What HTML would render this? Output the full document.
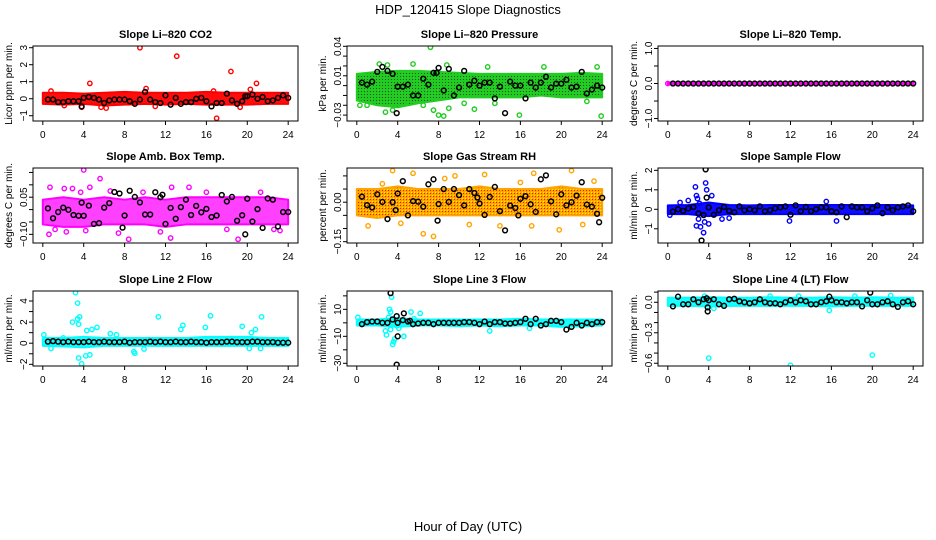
<!DOCTYPE html>
<html><head><meta charset="utf-8"><style>
html,body{margin:0;padding:0;background:#fff}
svg{display:block;font-family:"Liberation Sans",sans-serif}
</style></head><body>
<svg id="chart" width="936" height="540" viewBox="0 0 936 540" xmlns="http://www.w3.org/2000/svg">
<defs>
<pattern id="patGreen" width="3" height="3" patternUnits="userSpaceOnUse"><rect width="3" height="3" fill="#22cc22"/><rect x="1" y="1" width="1" height="1" fill="#115511"/></pattern>
<pattern id="patOrange" width="3" height="3" patternUnits="userSpaceOnUse"><rect width="3" height="3" fill="#ffa500"/><rect x="1" y="1" width="1" height="1" fill="#dd2200"/><rect x="0" y="0" width="1" height="1" fill="#ffee00"/></pattern>
</defs>
<rect x="0" y="0" width="936" height="540" fill="#fff"/>
<text x="468" y="14" font-size="13" text-anchor="middle">HDP_120415  Slope Diagnostics</text>
<text x="468" y="531" font-size="13" text-anchor="middle">Hour of Day (UTC)</text>
</svg>
<script>
const HOURS=[0.5,1,1.5,2,2.5,3,3.5,4,4.5,5,5.5,6,6.5,7,7.5,8,8.5,9,9.5,10,10.5,11,11.5,12,12.5,13,13.5,14,14.5,15,15.5,16,16.5,17,17.5,18,18.5,19,19.5,20,20.5,21,21.5,22,22.5,23,23.5,24];
const BAND_X=[0,2,4,6,8,10,12,14,16,18,20,22,24];
const XTICKS=[0,4,8,12,16,20,24];

// Panel 1 CO2
const co2Lo=[-0.3,-0.35,-0.3,-0.4,-0.35,-0.3,-0.35,-0.3,-0.35,-0.35,-0.35,-0.3,-0.3];
const co2Hi=[0.35,0.35,0.3,0.35,0.4,0.35,0.35,0.35,0.4,0.35,0.35,0.35,0.35];
const co2OutX=[9.5,13.1,18.4,4.6,20.9,17.0,10.1,20.3,0.8,3.8,5.7,6.2,19.3,11.0,2.1,16.7];
const co2OutY=[3.0,2.5,1.6,0.9,0.9,-1.15,0.6,0.55,0.45,-0.5,-0.5,-0.55,-0.5,-0.45,-0.4,0.45];
const co2Mean=[-0.05,-0.05,-0.2,-0.2,-0.15,-0.15,-0.15,0.05,0.1,0.05,-0.05,-0.25,-0.1,-0.05,-0.05,-0.05,-0.15,-0.3,-0.05,0.4,-0.05,-0.2,-0.25,0.2,-0.35,0.05,-0.3,-0.2,-0.2,0,0.05,-0.15,-0.45,-0.25,-0.25,0.3,-0.1,-0.3,-0.15,0.15,0.25,0,0.1,-0.15,-0.1,0.05,0.2,0.05];
const co2ExX=[3.8,19.8],co2ExY=[-0.45,0.15];

// Panel 2 Pressure
const prLo=[-0.015,-0.02,-0.022,-0.018,-0.015,-0.012,-0.012,-0.012,-0.012,-0.01,-0.012,-0.012,-0.012];
const prHi=[0.012,0.014,0.015,0.015,0.014,0.013,0.012,0.012,0.012,0.012,0.012,0.013,0.012];
const prOutX=[7.2,2.2,3,5.5,8.8,18.3,23.5,0.3,2.8,7.5,8,8.5,9,11.5,15.9,23.9,5.1,13.5,22.5,10.5,3.5,1.0,6.5,12.8];
const prOutY=[0.039,0.022,0.021,0.022,0.021,0.019,0.019,-0.02,-0.027,-0.025,-0.03,-0.031,-0.023,-0.024,-0.03,-0.031,-0.018,-0.018,-0.016,-0.018,-0.025,-0.02,-0.02,0.019];
const prMean=[0.003,0.001,0.004,0.014,0.019,0.015,0.012,-0.001,-0.001,0.001,-0.01,-0.01,0.007,0.001,0.013,0.018,-0.005,0.017,-0.01,-0.002,0.015,0.001,0.005,0.0,0.003,0.003,-0.013,-0.001,-0.028,0.004,0.0,0.0,-0.013,0.003,-0.002,0.003,0.009,-0.002,0.002,0.002,0.006,-0.002,-0.001,0.014,-0.008,-0.004,0.0,-0.002];
const prExX=[3.9,7.8],prExY=[-0.028,0.013];

// Panel 3 Li-820 Temp
const tLo=[-0.02,-0.02,-0.02,-0.02,-0.02,-0.02,-0.02,-0.02,-0.02,-0.02,-0.02,-0.02,-0.02];
const tHi=[0.02,0.02,0.02,0.02,0.02,0.02,0.02,0.02,0.02,0.02,0.02,0.02,0.02];
const tOutX=[0.0,24.0],tOutY=[0,0];
const tMean=[0,0,0,0,0,0,0,0,0,0,0,0,0,0,0,0,0,0,0,0,0,0,0,0,0,0,0,0,0,0,0,0,0,0,0,0,0,0,0,0,0,0,0,0,0,0,0,0];
const tExX=[],tExY=[];

// Panel 4 Amb Box Temp
const abLo=[-0.06,-0.07,-0.07,-0.06,-0.06,-0.06,-0.07,-0.06,-0.06,-0.06,-0.06,-0.06,-0.06];
const abHi=[0.04,0.05,0.04,0.05,0.04,0.05,0.04,0.05,0.05,0.05,0.05,0.05,0.04];
const abOutX=[4,5.6,0.7,2.1,4.6,12.6,14.3,0.6,1.2,2.3,4.2,7.4,8.4,11.5,12.5,19.1,22.6,23.2,16.0,3.7,9.8,18.0,21.3,2.9,6.6];
const abOutY=[0.16,0.125,0.09,0.085,0.09,0.09,0.09,-0.1,-0.08,-0.09,-0.085,-0.095,-0.12,-0.09,-0.115,-0.12,-0.08,-0.085,0.07,0.07,0.07,-0.08,0.07,0.085,0.075];
const abMean=[0.005,-0.035,-0.01,0.008,-0.001,-0.022,-0.025,-0.025,0.016,-0.058,-0.055,0.008,0.026,0.071,0.065,-0.024,0.076,0.051,0.029,-0.02,-0.02,0.07,0.05,-0.058,0.007,-0.037,0.01,0.04,-0.022,0.015,-0.011,0.003,-0.03,-0.024,0.059,0.033,0.051,-0.045,-0.023,0.044,-0.048,0.002,-0.074,0.045,0.04,-0.068,-0.01,-0.01];
const abExX=[3.8,7.8,19.8,11.7],abExY=[0.028,-0.073,-0.10,0.06];

// Panel 5 Gas Stream RH
const rhLo=[-0.05,-0.06,-0.05,-0.05,-0.05,-0.05,-0.05,-0.05,-0.05,-0.05,-0.05,-0.05,-0.05];
const rhHi=[0.05,0.05,0.06,0.05,0.05,0.05,0.06,0.05,0.05,0.05,0.06,0.05,0.05];
const rhOutX=[3.5,5.5,12.5,17.3,21.0,1.1,6.5,7.5,4.3,17.1,19.8,22.1,0.2,9.6,8.6,2.5,14.0,23.2,11.0,16.0];
const rhOutY=[0.12,0.11,0.105,0.11,0.12,-0.09,-0.12,-0.13,-0.08,-0.09,-0.105,-0.085,0.02,0.1,0.09,0.07,-0.09,0.08,-0.085,0.075];
const rhMean=[0.021,-0.011,-0.02,0.03,0.001,-0.064,0.0,0.033,0.08,-0.05,0.004,0.002,-0.017,0.068,0.087,-0.007,0.05,0.001,0.05,0.027,-0.012,0.05,0.035,-0.005,-0.048,0.02,0.058,-0.034,-0.107,-0.013,-0.022,0.013,0.023,-0.008,-0.037,0.087,0.102,0.003,-0.046,0.03,-0.012,0.0,0.025,0.076,-0.009,-0.017,-0.044,0.017];
const rhExX=[7.9,3.8,15.8,23.7,11.8],rhExY=[-0.07,-0.03,-0.05,-0.076,0.018];

// Panel 6 Sample Flow
const sfLo=[-0.25,-0.25,-0.35,-0.25,-0.25,-0.25,-0.25,-0.25,-0.25,-0.25,-0.25,-0.25,-0.25];
const sfHi=[0.2,0.22,0.35,0.22,0.2,0.22,0.22,0.22,0.22,0.22,0.22,0.22,0.2];
const sfOutX=[2.7,2.8,2.9,3.0,2.8,3.2,3.5,3.7,3.8,3.6,4.0,4.3,3.1,0.2,1.2,2.0,11.9,16.5,5.3,15.5,6.0];
const sfOutY=[1.15,0.7,0.55,-0.5,-0.85,-0.9,-1.2,1.35,1.0,-0.65,-0.75,0.7,0.3,-0.3,0.35,0.45,-0.6,-0.6,-0.5,0.4,-0.45];
const sfMean=[-0.12,0.0,-0.08,0.05,0.12,-0.22,-0.3,0.1,-0.28,-0.05,0.12,-0.08,-0.15,0.15,-0.05,0.0,-0.05,0.15,-0.1,-0.05,0.05,0.1,0.15,-0.28,0.2,-0.1,0.12,-0.1,0.0,0.1,0.1,-0.1,-0.15,0.15,-0.4,0.15,0.1,0.1,-0.1,0.05,0.2,-0.2,0.1,-0.05,0.1,0.15,0.2,-0.1];
const sfExX=[3.3,3.7,3.8],sfExY=[-1.6,2.05,0.6];

// Panel 7 Line 2 Flow
const l2Lo=[-0.25,-0.3,-0.4,-0.25,-0.25,-0.25,-0.25,-0.25,-0.25,-0.25,-0.25,-0.25,-0.25];
const l2Hi=[0.5,0.5,0.6,0.5,0.5,0.5,0.5,0.5,0.6,0.6,0.6,0.5,0.5];
const l2OutX=[3.2,3.4,2.9,3.4,3.6,3.5,3.5,3.8,4.2,4.6,4.3,4.8,5.3,11.3,13.5,13.7,16.4,15.9,19.5,21.4,8.9,9.0,9.9,0.1,20.4,20.8,21.3,20.2,7.2,6.6,2.0,0.8];
const l2OutY=[4.8,3.8,2.0,2.3,2.5,1.8,-1.4,-1.95,-1.2,-1.1,1.2,1.3,1.5,2.5,1.3,1.7,2.6,1.5,1.6,2.5,-0.8,-0.95,-0.55,0.8,1.0,1.3,-0.5,-0.5,0.8,0.9,0.5,-0.5];
const l2Mean=[0.15,0.2,0.15,0.1,0.15,0.1,0.1,0.1,0.15,0.1,0.1,0.15,0.1,0.1,0.1,0.15,0.05,0.1,0.1,0.1,0.15,0.1,0.15,0.1,0.1,0.15,0.1,0.1,0.15,0.1,0.1,0.05,0.1,0.1,0.1,0.15,0.15,0.1,0.1,0.1,0.15,0.15,0.1,0.1,0.1,0.05,0.05,0.05];
const l2ExX=[],l2ExY=[];

// Panel 8 Line 3 Flow
const l3Lo=[-2,-2,-3,-2,-2,-2.5,-2,-2.5,-2,-2,-3,-2.5,-2];
const l3Hi=[2.5,2.5,3.5,2.5,2.5,2.5,2.5,2.5,3,2.5,2.5,2.5,2.5];
const l3OutX=[3.4,3.2,3.3,3.1,2.8,2.9,3.5,3.6,3.7,4.6,5.3,6.2,5.6,0.1,13,16.9,3.3,4.1,3.9];
const l3OutY=[19,10,8,4,-6,-9,-16,-14,-12,-10,8,7,3,4,-6,-4,-5,-4,-2];
const l3Mean=[-1,0.5,1,1,0,0,2.5,0,2,1,-1,-0.5,0,0,-1,0,0,0,0,0,0.5,0.5,0,-1,1,-1,0.5,0.5,-0.5,-0.5,0,0.5,3,-1,3,-2,-1,1.5,1.5,0.5,-5,-3,0,-2,0,-1,0.5,0.5];
const l3ExX=[3.3,3.9,4.0,3.9,4.6,5.2],l3ExY=[22,-31,-10,5,7,1.5];

// Panel 9 Line 4 Flow
const l4Lo=[-0.035,-0.035,-0.04,-0.035,-0.035,-0.035,-0.035,-0.035,-0.04,-0.035,-0.035,-0.035,-0.035];
const l4Hi=[0.045,0.045,0.05,0.045,0.045,0.05,0.045,0.045,0.05,0.045,0.05,0.045,0.045];
const l4OutX=[4,12,20,10,12.8,18.3,21.8,3.6,15.8,4.5];
const l4OutY=[-0.55,-0.62,-0.52,0.06,0.06,0.06,0.065,0.06,-0.08,-0.06];
const l4Mean=[-0.04,0.055,-0.02,-0.02,0.03,0.0,0.03,0.02,0.03,-0.02,-0.035,0.03,0.035,0.01,0.0,-0.01,0.0,0.03,0.0,-0.01,-0.01,-0.02,0.0,0.02,0.0,0.02,0.01,-0.02,-0.02,0.0,0.01,0.02,0.0,0.0,-0.01,0.0,0.0,-0.04,0.02,-0.02,-0.02,0.0,0.01,-0.02,-0.045,0.0,0.01,-0.02];
const l4ExX=[3.9,3.9,19.8,15.8,3.8],l4ExY=[-0.09,-0.05,0.095,0.055,0.04];

const panels=[
 {name:"co2",title:"Slope Li\u2013820 CO2",yt:"Licor ppm per min.",col:"#ff0000",fill:"#ff0000",fillOp:0.95,dom:[-1.31,3.1],ticks:[-1,0,1,2,3],labels:["\u22121","0","1","2","3"],labelIdx:[0,1,2,3,4],lo:co2Lo,hi:co2Hi,ox:co2OutX,oy:co2OutY,mean:co2Mean,ex:co2ExX,ey:co2ExY},
 {name:"pressure",title:"Slope Li\u2013820 Pressure",yt:"kPa per min.",col:"#22cc22",fill:"url(#patGreen)",fillOp:1,dom:[-0.036,0.0403],ticks:[-0.03,-0.02,-0.01,0,0.01,0.02,0.03,0.04],labels:["\u22120.03","0.01","0.04"],labelIdx:[0,4,7],lo:prLo,hi:prHi,ox:prOutX,oy:prOutY,mean:prMean,ex:prExX,ey:prExY},
 {name:"li820-temp",title:"Slope Li\u2013820 Temp.",yt:"degrees C per min.",col:"#ff00ff",fill:"#ff00ff",fillOp:1,dom:[-1.07,1.07],ticks:[-1,-0.5,0,0.5,1],labels:["\u22121.0","0.0","1.0"],labelIdx:[0,2,4],lo:tLo,hi:tHi,ox:tOutX,oy:tOutY,mean:tMean,ex:tExX,ey:tExY},
 {name:"amb-box-temp",title:"Slope Amb. Box Temp.",yt:"degrees C per min.",col:"#ff00ff",fill:"#ff00ff",fillOp:0.75,dom:[-0.135,0.168],ticks:[-0.10,-0.05,0,0.05,0.10,0.15],labels:["\u22120.10","0.05"],labelIdx:[0,3],lo:abLo,hi:abHi,ox:abOutX,oy:abOutY,mean:abMean,ex:abExX,ey:abExY},
 {name:"gas-stream-rh",title:"Slope Gas Stream RH",yt:"percent per min.",col:"#ffa500",fill:"url(#patOrange)",fillOp:1,dom:[-0.155,0.13],ticks:[-0.15,-0.10,-0.05,0,0.05,0.10],labels:["\u22120.15","0.00"],labelIdx:[0,3],lo:rhLo,hi:rhHi,ox:rhOutX,oy:rhOutY,mean:rhMean,ex:rhExX,ey:rhExY},
 {name:"sample-flow",title:"Slope Sample Flow",yt:"ml/min per min.",col:"#0000ff",fill:"#0000ff",fillOp:0.95,dom:[-1.73,2.12],ticks:[-1,0,1,2],labels:["\u22121","0","1","2"],labelIdx:[0,1,2,3],lo:sfLo,hi:sfHi,ox:sfOutX,oy:sfOutY,mean:sfMean,ex:sfExX,ey:sfExY},
 {name:"line2-flow",title:"Slope Line 2 Flow",yt:"ml/min per min.",col:"#00ffff",fill:"#00ffff",fillOp:0.9,dom:[-2.16,4.95],ticks:[-2,-1,0,1,2,3,4],labels:["\u22122","0","2","4"],labelIdx:[0,2,4,6],lo:l2Lo,hi:l2Hi,ox:l2OutX,oy:l2OutY,mean:l2Mean,ex:l2ExX,ey:l2ExY},
 {name:"line3-flow",title:"Slope Line 3 Flow",yt:"ml/min per min.",col:"#00ffff",fill:"#00ffff",fillOp:0.9,dom:[-32,23.6],ticks:[-30,-20,-10,0,10,20],labels:["\u221230","\u221210","10"],labelIdx:[0,2,4],lo:l3Lo,hi:l3Hi,ox:l3OutX,oy:l3OutY,mean:l3Mean,ex:l3ExX,ey:l3ExY},
 {name:"line4-flow",title:"Slope Line 4 (LT) Flow",yt:"ml/min per min.",col:"#00ffff",fill:"#00ffff",fillOp:0.9,dom:[-0.627,0.111],ticks:[-0.6,-0.5,-0.4,-0.3,-0.2,-0.1,0,0.1],labels:["\u22120.6","\u22120.3","0.0"],labelIdx:[0,3,6],lo:l4Lo,hi:l4Hi,ox:l4OutX,oy:l4OutY,mean:l4Mean,ex:l4ExX,ey:l4ExY}
];

const NS="http://www.w3.org/2000/svg";
const svg=document.getElementById("chart");
const COLS=[33,347,658],ROWS=[46,168,291],W=265,H=75;
function mk(tag,attrs,parent){const e=document.createElementNS(NS,tag);for(const k in attrs)e.setAttribute(k,attrs[k]);(parent||svg).appendChild(e);return e;}

panels.forEach((p,i)=>{
 const L=COLS[i%3],T=ROWS[Math.floor(i/3)];
 const g=mk("g",{});
 
 
 const xs=v=>L+(v+0.96)/25.92*W;
 const ys=v=>T+H-(v-p.dom[0])/(p.dom[1]-p.dom[0])*H;
 const cp="clip"+i;
 const cl=mk("clipPath",{id:cp},g);mk("rect",{x:L,y:T,width:W,height:H},cl);
 const pg=mk("g",{"clip-path":"url(#"+cp+")"},g);
 let pts=[];
 BAND_X.forEach((x,k)=>pts.push(xs(x)+","+ys(p.hi[k])));
 for(let k=BAND_X.length-1;k>=0;k--)pts.push(xs(BAND_X[k])+","+ys(p.lo[k]));
 const band=mk("polygon",{points:pts.join(" "),fill:p.fill,"fill-opacity":p.fillOp,stroke:p.col,"stroke-width":2,"stroke-linejoin":"round"},pg);
 
 
 p.ox.forEach((x,k)=>{
  const c=mk("circle",{cx:xs(x),cy:ys(p.oy[k]),r:2.2,fill:"none",stroke:p.col,"stroke-width":1.4},pg);
  
  
 });
 const n=Math.min(HOURS.length,p.mean.length);
 for(let k=0;k<n;k++){
  const c=mk("circle",{cx:xs(HOURS[k]),cy:ys(p.mean[k]),r:2.4,fill:"none",stroke:"#000","stroke-width":1.5},pg);
  
  
 }
 p.ex.forEach((x,k)=>{
  const c=mk("circle",{cx:xs(x),cy:ys(p.ey[k]),r:2.4,fill:"none",stroke:"#000","stroke-width":1.5},pg);
  
  
 });
 const box=mk("rect",{x:L,y:T,width:W,height:H,fill:"none",stroke:"#000","stroke-width":1},g);
 
 
 const t=mk("text",{x:L+W/2,y:T-8,"font-size":11,"font-weight":"bold","text-anchor":"middle"},g);
 t.textContent=p.title;
 
 
 const xa=mk("g",{},g);
 
 
 mk("line",{x1:xs(0),x2:xs(24),y1:T+H,y2:T+H,stroke:"#000"},xa);
 XTICKS.forEach(v=>{
  mk("line",{x1:xs(v),x2:xs(v),y1:T+H,y2:T+H+4,stroke:"#000"},xa);
  const tl=mk("text",{x:xs(v),y:T+H+17,"font-size":10,"text-anchor":"middle"},xa);
  tl.textContent=String(v);
  
  
 });
 const ya=mk("g",{},g);
 
 
 mk("line",{x1:L,x2:L,y1:ys(p.ticks[0]),y2:ys(p.ticks[p.ticks.length-1]),stroke:"#000"},ya);
 p.ticks.forEach(v=>mk("line",{x1:L-4,x2:L,y1:ys(v),y2:ys(v),stroke:"#000"},ya));
 p.labelIdx.forEach((ti,k)=>{
  const yy=ys(p.ticks[ti]);
  const tl=mk("text",{x:L-6,y:yy,"font-size":10,"text-anchor":"middle",transform:"rotate(-90 "+(L-6)+" "+yy+")"},ya);
  tl.textContent=p.labels[k];
  
  
 });
 const yt=mk("text",{x:L-21,y:T+H/2,"font-size":10,"text-anchor":"middle",transform:"rotate(-90 "+(L-21)+" "+(T+H/2)+")"},g);
 yt.textContent=p.yt;
 
 
});
</script>
</body></html>
